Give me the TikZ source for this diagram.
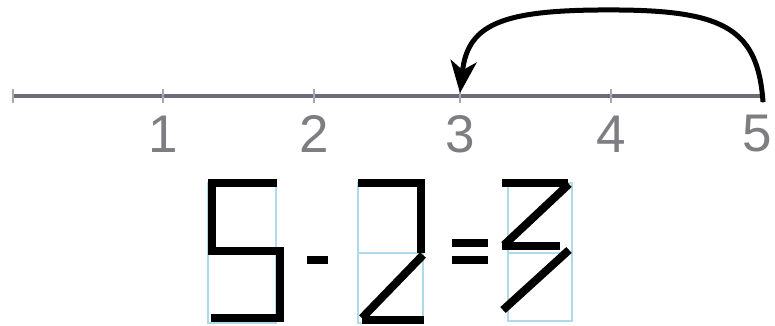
\documentclass[tikz,border=0pt]{standalone}
\usepackage{fontspec}
\setmainfont{Liberation Sans}
\usetikzlibrary{arrows.meta}
\definecolor{axisgray}{RGB}{108,108,118}
\definecolor{labelgray}{RGB}{125,125,130}
\definecolor{boxblue}{RGB}{175,218,232}
\tikzset{
  axisline/.style={draw=axisgray,line width=4pt},
  tickmark/.style={draw=axisgray!60,line width=1.5pt},
  ticklabel/.style={text=labelgray,font=\fontsize{53}{53}\selectfont,inner sep=0pt,anchor=center},
  jump/.style={draw=black,line width=5pt,-{Stealth[length=32pt,width=26pt,inset=9pt]}},
  cellbox/.style={draw=boxblue,line width=1.5pt},
  seg/.style={draw=black,line width=8pt,line cap=butt,line join=miter},
}
\begin{document}
\begin{tikzpicture}[x=1pt,y=-1pt]
\useasboundingbox (0,0) rectangle (775,325);
% number line
\coordinate (t0) at (13,96);
\coordinate (t1) at (163,96);
\coordinate (t2) at (314,96);
\coordinate (t3) at (460,96);
\coordinate (t4) at (611,96);
\coordinate (t5) at (763,96);
\draw[axisline] (t0) -- (t5);
\foreach \t in {t0,t1,t2,t3,t4,t5} \draw[tickmark] ([yshift=-7pt]\t) -- ([yshift=7pt]\t);
\node[ticklabel] (l1) at (163,134) {1};
\node[ticklabel] (l2) at (314,134) {2};
\node[ticklabel] (l3) at (460,134) {3};
\node[ticklabel] (l4) at (611,134) {4};
\node[ticklabel] (l5) at (757,134) {5};
% jump arrow from 5 back to 3
\coordinate (js) at ([yshift=-6pt]t5);
\coordinate (jtop) at (620,10);
\coordinate (je) at ([yshift=3pt]t3);
\draw[jump] (js) .. controls (758,30) and (725,11) .. (jtop)
  .. controls (505,9) and (468,22) .. (je);
% cells
\draw[cellbox] (208,183) rectangle (276,323) (208,252) -- (276,252);
\draw[cellbox] (358,183) rectangle (423,323) (358,253) -- (423,253);
\draw[cellbox] (508,183) rectangle (572,321) (508,253) -- (572,253);
% digit 5
\draw[seg] (277,183) -- (212,183) -- (212,251) -- (280,251) -- (280,318) -- (211,318);
% minus
\draw[seg] (307,260) -- (328,260);
% digit 2
\draw[seg] (358,183) -- (421,183) -- (421,253);
\draw[seg] (423,255) -- (362,318);
\draw[seg] (362,320) -- (424,320);
% equals
\draw[seg] (452,243) -- (488,243) (452,260) -- (488,260);
% digit 3
\draw[seg] (502,183) -- (568,183);
\draw[seg] (569,184) -- (504,245);
\draw[seg] (502,246) -- (560,246);
\draw[seg] (569,250) -- (503,310);
\end{tikzpicture}
\end{document}
